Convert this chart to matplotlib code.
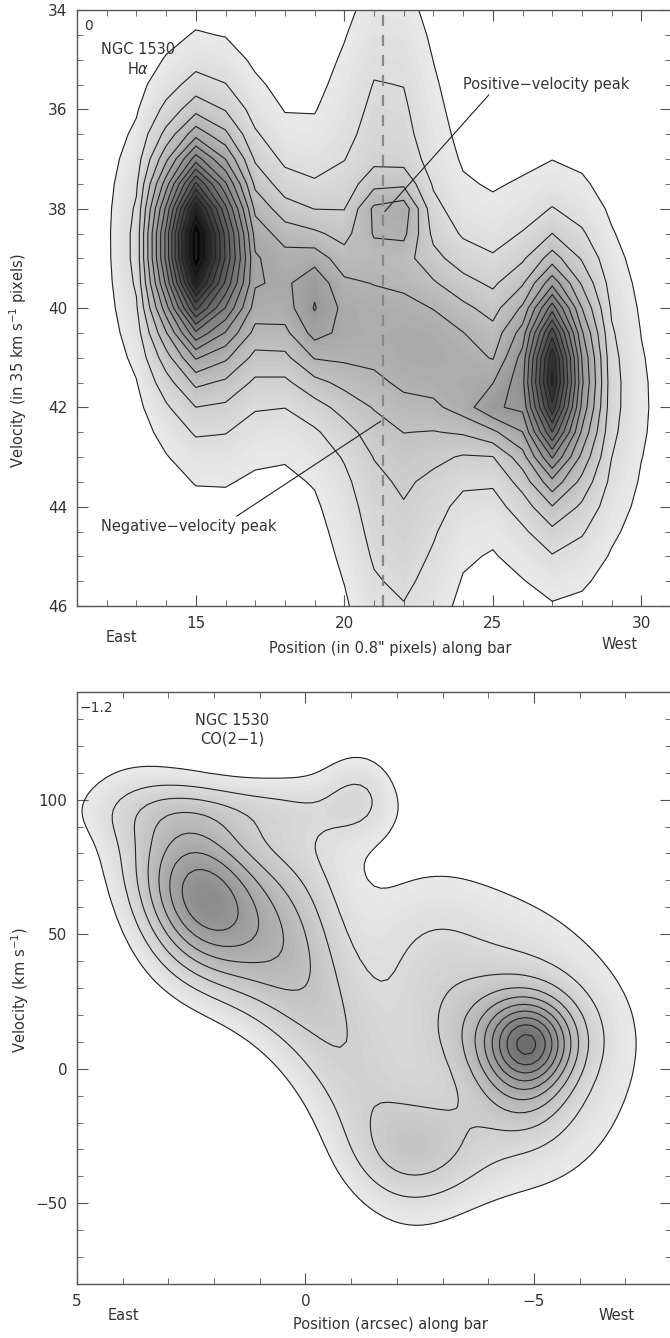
import numpy as np
import matplotlib
matplotlib.use("Agg")
import matplotlib.pyplot as plt
from matplotlib.ticker import MultipleLocator

# H-alpha position-velocity diagram, modelled as blobs (pixel units)
#        A core A mid A wing bandW bandM bandL bandR B core B mid B wing tailU tailD +peak ridge sec
ha_x0 = [15.0, 15.1, 15.4, 21.0, 21.0, 18.3, 24.0, 27.0, 27.1, 27.5, 21.5, 21.8, 21.6, 19.0, 24.8]
ha_y0 = [38.7, 38.8, 39.2, 40.3, 40.3, 39.7, 41.2, 41.3, 41.5, 41.4, 36.0, 44.5, 38.1, 39.9, 42.0]
ha_sx = [0.75, 1.1, 1.3, 5.5, 4.0, 1.6, 1.5, 0.6, 0.8, 1.5, 1.2, 1.3, 0.6, 0.6, 0.55]
ha_sy = [1.1, 1.9, 2.8, 2.9, 1.4, 1.2, 1.2, 1.1, 1.8, 2.7, 2.5, 2.5, 0.45, 0.9, 0.4]
ha_tilt = [0, 0, 0, 0.2, 0.2, 0.35, 0.2, 0, 0, 0, 0, 0, 0, 0.8, 0]
ha_amp = [10, 5, 1.7, 1.8, 2.3, 1.8, 1.8, 7.5, 4, 2.0, 1.75, 2.0, 3.4, 1.6, 2.6]

# CO(2-1) position-velocity diagram (arcsec, km/s)
#        Lplat Lcore Lwing top  hook bridge Rcore Rmid Rwide Rbroad shoulder gap
co_x0 = [2.1, 2.3, 0.2, 1.8, -1.2, -0.8, -4.9, -4.8, -4.6, -4.3, -2.6, -2.6]
co_y0 = [62, 63, 65, 96, 102, 5, 10, -2, 14, 12, -30, 45]
co_sx = [1.4, 0.9, 0.9, 2.0, 0.6, 1.2, 0.6, 0.7, 1.2, 2.0, 1.0, 0.9]
co_sy = [22, 20, 28, 8, 12, 28, 10, 16, 14, 38, 14, 20]
co_tilt = [12, 0, 0, 0, 0, 22, 0, 0, 0, 3, 0, 0]
co_amp = [4.3, 3.4, 1.8, 1.3, 1.6, 2.0, 4.4, 2.5, 1.8, 2.5, 2.2, 0.8]

ha_slit = 21.3
TXT = "#333333"


def field(X, Y, x0, y0, sx, sy, tilt, amp):
    Z = np.zeros_like(X)
    for a, b, c, d, t, h in zip(x0, y0, sx, sy, tilt, amp):
        dx = X - a
        dy = Y - b - t * dx
        Z += h * np.exp(-0.5 * ((dx / c) ** 2 + (dy / d) ** 2))
    return Z


def gray(v):
    return str(float(np.clip(0.97 - 0.053 * v, 0, 1)))


def draw(ax, X, Y, Z):
    top = Z.max()
    fine = np.arange(1, top + 0.2, 0.2)
    cols = [gray(0.5 * (fine[i] + fine[i + 1])) for i in range(len(fine) - 1)]
    ax.contourf(X, Y, Z, levels=fine, colors=cols)
    ax.contour(X, Y, Z, levels=np.arange(1, top, 1), colors="#222222", linewidths=0.8)


def style(ax):
    for s in ax.spines.values():
        s.set_color("#555555")
        s.set_linewidth(1.0)
    ax.tick_params(which="both", direction="in", top=True, right=True,
                   colors="#555555", labelcolor=TXT, labelsize=11)
    ax.tick_params(which="major", length=8, pad=7)
    ax.tick_params(which="minor", length=4)


def px(x, y):
    return x / 670, 1 - y / 1338


fig = plt.figure(figsize=(6.7, 13.38), dpi=100)

# top panel: H-alpha
ax1 = fig.add_axes([77 / 670, 1 - 606 / 1338, 594 / 670, 596 / 1338])
hx = np.arange(10, 33, 1.0)
hy = np.arange(33, 47.01, 0.5)
HX, HY = np.meshgrid(hx, hy)
HZ = field(HX, HY, ha_x0, ha_y0, ha_sx, ha_sy, ha_tilt, ha_amp)
draw(ax1, HX, HY, HZ)
ax1.axvline(ha_slit, color="#888888", lw=1.6, dashes=(5, 4))
ax1.set_xlim(11, 31)
ax1.set_ylim(46, 34)
ax1.xaxis.set_major_locator(MultipleLocator(5))
ax1.xaxis.set_minor_locator(MultipleLocator(1))
ax1.yaxis.set_major_locator(MultipleLocator(2))
ax1.yaxis.set_minor_locator(MultipleLocator(0.5))
style(ax1)
ax1.text(0.012, 0.985, "0", transform=ax1.transAxes, ha="left", va="top", fontsize=10, color=TXT)
ax1.text(13.05, 35.0, "NGC 1530\nH$\\alpha$", ha="center", va="center", fontsize=10.5,
         color=TXT, linespacing=1.3)
ax1.annotate("Positive\u2212velocity peak", xy=(ha_slit, 38.1), xytext=(24.0, 35.5),
             ha="left", va="center", fontsize=10.5, color=TXT,
             arrowprops=dict(arrowstyle="-", color="#222222", lw=0.8, shrinkA=0,
                             relpos=(0.17, 0.0)))
ax1.annotate("Negative\u2212velocity peak", xy=(ha_slit, 42.25), xytext=(11.8, 44.4),
             ha="left", va="center", fontsize=10.5, color=TXT,
             arrowprops=dict(arrowstyle="-", color="#222222", lw=0.8, shrinkA=0,
                             relpos=(0.75, 1.0)))

# bottom panel: CO(2-1)
ax2 = fig.add_axes([77 / 670, 1 - 1284 / 1338, 594 / 670, 592 / 1338])
cx = np.arange(-9, 6.01, 0.15)
cy = np.arange(-90, 150.1, 2.0)
CX, CY = np.meshgrid(cx, cy)
CZ = field(CX, CY, co_x0, co_y0, co_sx, co_sy, co_tilt, co_amp)
draw(ax2, CX, CY, CZ)
ax2.set_xlim(5, -8)
ax2.set_ylim(-80, 140)
ax2.xaxis.set_major_locator(MultipleLocator(5))
ax2.xaxis.set_minor_locator(MultipleLocator(1))
ax2.yaxis.set_major_locator(MultipleLocator(50))
ax2.yaxis.set_minor_locator(MultipleLocator(10))
style(ax2)
ax2.text(0.005, 0.985, "\u22121.2", transform=ax2.transAxes, ha="left", va="top", fontsize=10, color=TXT)
ax2.text(1.6, 126, "NGC 1530\nCO(2\u22121)", ha="center", va="center", fontsize=10.5,
         color=TXT, linespacing=1.3)

# axis labels and directions
fig.text(*px(18, 361), "Velocity (in 35 km s$^{-1}$ pixels)", rotation=90,
         ha="center", va="center", fontsize=10.5, color=TXT)
fig.text(*px(390, 648), "Position (in 0.8\" pixels) along bar", ha="center", va="center",
         fontsize=10.5, color=TXT)
fig.text(*px(121, 638), "East", ha="center", va="center", fontsize=10.5, color=TXT)
fig.text(*px(620, 645), "West", ha="center", va="center", fontsize=10.5, color=TXT)

fig.text(*px(20, 990), "Velocity (km s$^{-1}$)", rotation=90,
         ha="center", va="center", fontsize=10.5, color=TXT)
fig.text(*px(390, 1325), "Position (arcsec) along bar", ha="center", va="center",
         fontsize=10.5, color=TXT)
fig.text(*px(123, 1315), "East", ha="center", va="center", fontsize=10.5, color=TXT)
fig.text(*px(617, 1315), "West", ha="center", va="center", fontsize=10.5, color=TXT)

fig.savefig("out.png", dpi=100)
